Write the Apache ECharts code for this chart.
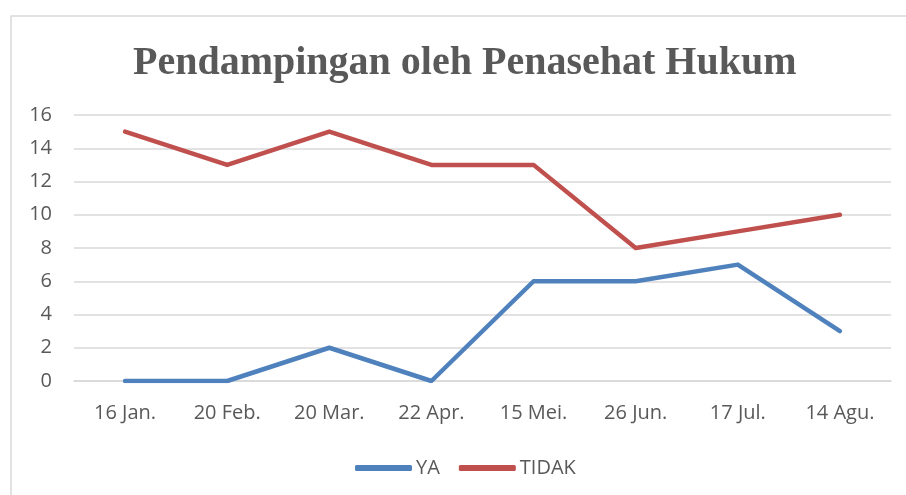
<!DOCTYPE html>
<html>
<head>
<meta charset="utf-8">
<script src="https://cdn.jsdelivr.net/npm/echarts@6/dist/echarts.min.js"></script>
<style>
  html, body { margin: 0; padding: 0; background: #fff; }
  #chart { width: 906px; height: 495px; }
</style>
</head>
<body>
<div id="chart"></div>
<script>
// values
const categories = ['16 Jan.', '20 Feb.', '20 Mar.', '22 Apr.', '15 Mei.', '26 Jun.', '17 Jul.', '14 Agu.'];
const yaValues = [0, 0, 2, 0, 6, 6, 7, 3];
const tidakValues = [15, 13, 15, 13, 13, 8, 9, 10];

const textColor = '#595959';
const labelFont = '"Open Sans", sans-serif';
const chart = echarts.init(document.getElementById('chart'));

chart.setOption({
    animation: false,
    graphic: [{
        type: 'rect',
        shape: { x: 11, y: 16, width: 910, height: 500 },
        style: { fill: 'none', stroke: '#d9d9d9', lineWidth: 1.5 },
        silent: true
    }],
    title: {
        text: 'Pendampingan oleh Penasehat Hukum',
        left: 133,
        top: 44,
        padding: 0,
        textStyle: {
            fontFamily: '"Liberation Serif", "Times New Roman", serif',
            fontWeight: 'bold',
            fontSize: 40,
            color: textColor
        }
    },
    legend: {
        bottom: 17,
        left: 355,
        padding: 0,
        icon: 'roundRect',
        itemWidth: 57,
        itemHeight: 6,
        itemGap: 19,
        textStyle: {
            fontFamily: labelFont,
            fontSize: 20,
            color: textColor,
            padding: [0, 0, 0, -1]
        }
    },
    grid: {
        left: 74,
        right: 15,
        top: 115,
        bottom: 114
    },
    xAxis: {
        type: 'category',
        data: categories,
        boundaryGap: true,
        axisLine: { show: true, lineStyle: { color: '#d9d9d9', width: 1.5 } },
        axisTick: { show: false },
        axisLabel: {
            margin: 22,
            fontFamily: labelFont,
            fontSize: 20,
            color: textColor
        }
    },
    yAxis: {
        type: 'value',
        min: 0,
        max: 16,
        interval: 2,
        axisLine: { show: false },
        axisTick: { show: false },
        splitLine: { lineStyle: { color: '#d9d9d9', width: 1.5 } },
        axisLabel: {
            margin: 22,
            fontFamily: labelFont,
            fontSize: 20,
            color: textColor
        }
    },
    series: [{
        name: 'YA',
        type: 'line',
        data: yaValues,
        symbol: 'none',
        lineStyle: { color: '#4f81bd', width: 4.5, cap: 'round', join: 'round' },
        itemStyle: { color: '#4f81bd' }
    }, {
        name: 'TIDAK',
        type: 'line',
        data: tidakValues,
        symbol: 'none',
        lineStyle: { color: '#c0504d', width: 4.5, cap: 'round', join: 'round' },
        itemStyle: { color: '#c0504d' }
    }]
});
</script>
</body>
</html>
